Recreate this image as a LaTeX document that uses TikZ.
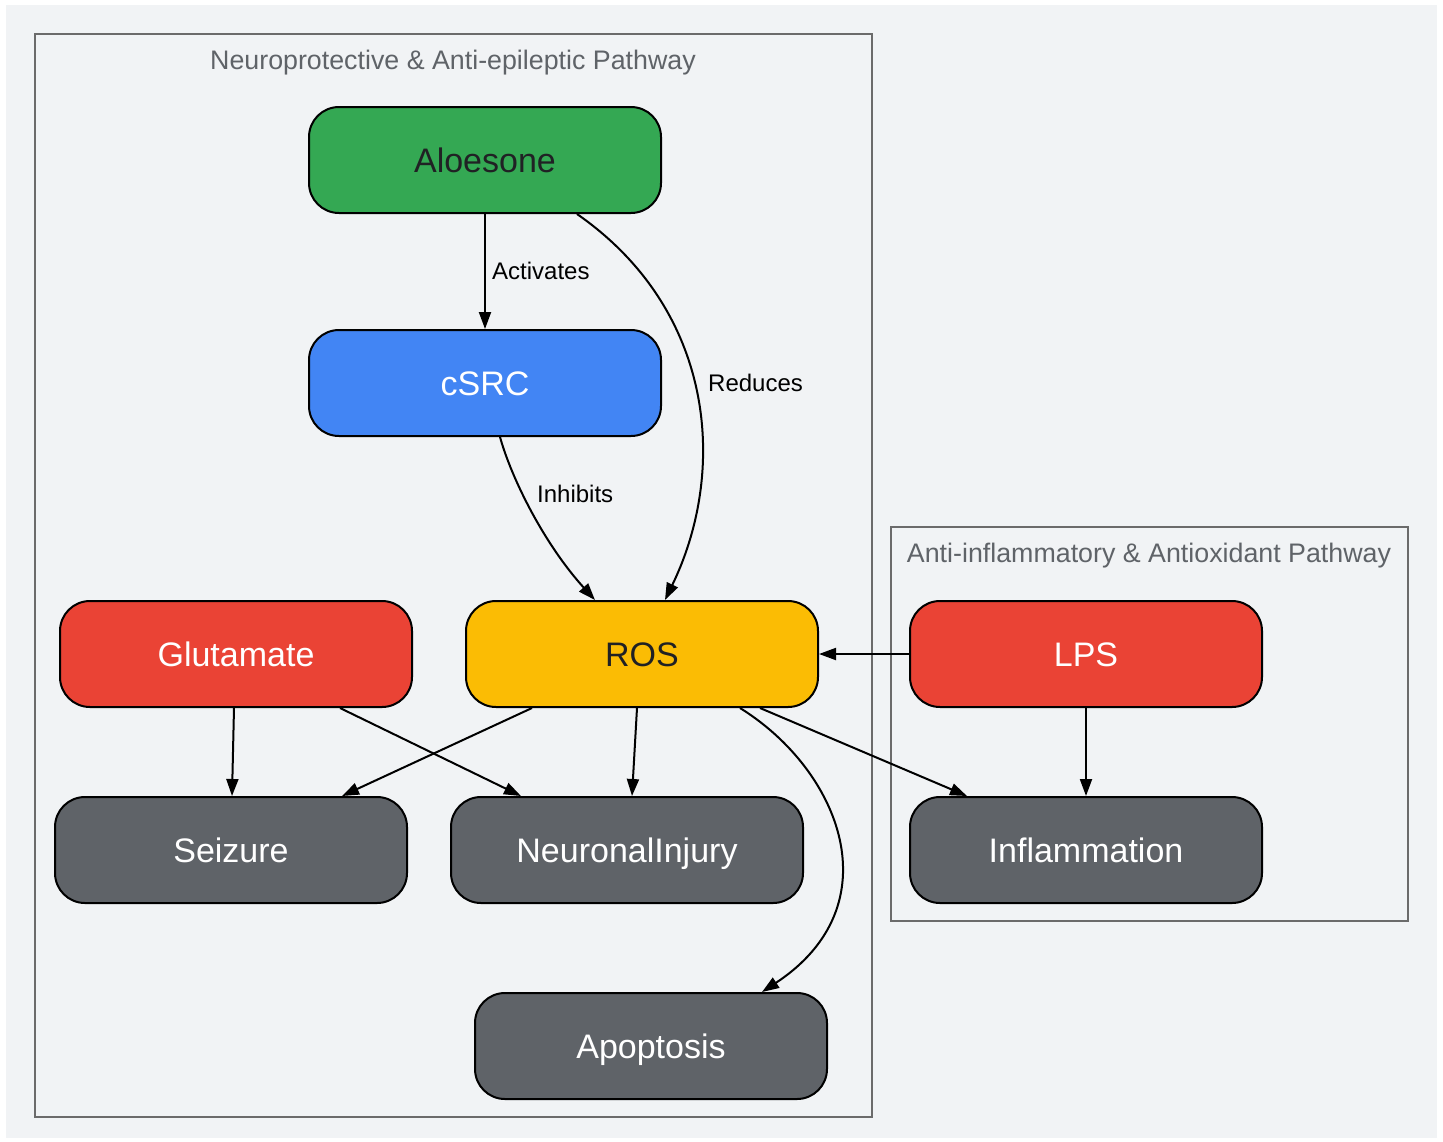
\documentclass[tikz,border=0pt]{standalone}
\usepackage{fontspec}
\setmainfont{Liberation Sans}
\usetikzlibrary{arrows.meta}
\definecolor{bg}{HTML}{F1F3F5}
\definecolor{cgreen}{HTML}{34A853}
\definecolor{cblue}{HTML}{4285F4}
\definecolor{cred}{HTML}{EA4335}
\definecolor{cyellow}{HTML}{FBBC04}
\definecolor{cgray}{HTML}{5F6368}
\definecolor{cdark}{HTML}{202124}
\definecolor{cluster}{HTML}{6B6B6B}
\definecolor{ctext}{HTML}{5F6368}
\begin{document}
\begin{tikzpicture}[x=1pt,y=-1pt,
  box/.style={draw=black,line width=2pt,rounded corners=30pt,minimum width=352pt,minimum height=106pt,inner sep=0pt,text height=24.5pt,text depth=0pt,font=\fontsize{34}{40}\selectfont},
  lightbox/.style={box,text=white},
  darkbox/.style={box,text=cdark},
  edge/.style={line width=2pt,-{Triangle[length=17pt,width=12pt]}},
  elabel/.style={anchor=west,font=\fontsize{24}{28}\selectfont,text=black,inner sep=0pt},
  ctitle/.style={font=\fontsize{26.8}{31}\selectfont,text=ctext,inner sep=0pt},
  clusterbox/.style={draw=cluster,line width=2pt}]
\useasboundingbox (0,0) rectangle (1443,1141);
\fill[white] (0,0) rectangle (1443,1141);
\fill[bg] (6,5) rectangle (1437,1138);
% clusters
\draw[clusterbox] (35,34) rectangle (872,1117);
\node[ctitle] (t1) at (453,63) {Neuroprotective \& Anti-epileptic Pathway};
\draw[clusterbox] (891,527) rectangle (1408,921);
\node[ctitle] (t2) at (1149,556) {Anti-inflammatory \& Antioxidant Pathway};
% nodes
\node[darkbox,fill=cgreen] (aloe) at (485,160) {Aloesone};
\node[lightbox,fill=cblue] (csrc) at (485,383) {cSRC};
\node[lightbox,fill=cred] (glu) at (236,654) {Glutamate};
\node[darkbox,fill=cyellow] (ros) at (642,654) {ROS};
\node[lightbox,fill=cred] (lps) at (1086,654) {LPS};
\node[lightbox,fill=cgray] (seiz) at (231,850) {Seizure};
\node[lightbox,fill=cgray] (neur) at (627,850) {NeuronalInjury};
\node[lightbox,fill=cgray] (infl) at (1086,850) {Inflammation};
\node[lightbox,fill=cgray] (apop) at (651,1046) {Apoptosis};
% edges
\draw[edge] (aloe.south) -- (csrc.north);
\node[elabel] (lact) at (492,271) {Activates};
\draw[edge] ([xshift=92pt]aloe.south) .. controls (715,310) and (728,470) .. ([xshift=23pt]ros.north);
\node[elabel] (lred) at (708,383) {Reduces};
\draw[edge] ([xshift=15pt]csrc.south) .. controls (512,480) and (545,545) .. ([xshift=-47pt]ros.north);
\node[elabel] (linh) at (537,494) {Inhibits};
\draw[edge] ([xshift=-2pt]glu.south) -- ([xshift=1pt]seiz.north);
\draw[edge] ([xshift=104pt]glu.south) -- ([xshift=-106pt]neur.north);
\draw[edge] ([xshift=-110pt]ros.south) -- ([xshift=111pt]seiz.north);
\draw[edge] ([xshift=-5pt]ros.south) -- ([xshift=5pt]neur.north);
\draw[edge] ([xshift=118pt]ros.south) -- ([xshift=-119pt]infl.north);
\draw[edge] ([xshift=98pt]ros.south) .. controls (840,770) and (894,905) .. ([xshift=111pt]apop.north);
\draw[edge] (lps.west) -- (ros.east);
\draw[edge] (lps.south) -- (infl.north);
\end{tikzpicture}
\end{document}
